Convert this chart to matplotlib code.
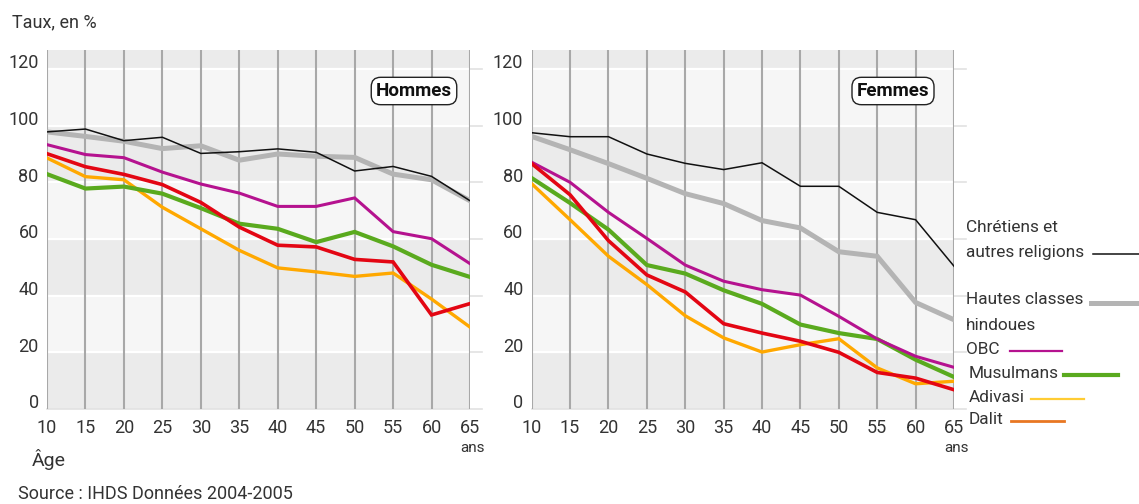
import matplotlib
matplotlib.use("Agg")
import matplotlib.pyplot as plt
from matplotlib.lines import Line2D

plt.rcParams['font.family'] = ['Roboto', 'DejaVu Sans']

ages = [10, 15, 20, 25, 30, 35, 40, 45, 50, 55, 60, 65]

# Hommes
h_chretiens = [97.8, 98.8, 94.7, 95.9, 90.2, 90.8, 91.8, 90.6, 84.0, 85.6, 82.1, 73.5]
h_hautes = [97.8, 96.2, 94.5, 91.9, 92.9, 87.8, 90.0, 89.2, 88.8, 82.9, 80.9, 73.5]
h_obc = [93.3, 89.8, 88.7, 83.6, 79.4, 76.2, 71.5, 71.5, 74.5, 62.6, 60.1, 51.3]
h_musulmans = [82.9, 77.8, 78.5, 76.0, 70.9, 65.4, 63.6, 58.9, 62.5, 57.4, 50.9, 46.6]
h_dalit = [90.1, 85.5, 82.8, 79.2, 72.9, 64.2, 57.8, 57.2, 52.8, 51.9, 33.2, 37.2]
h_adivasi = [88.6, 82.0, 80.9, 71.2, 63.6, 56.0, 49.8, 48.4, 46.8, 48.0, 38.8, 28.9]

# Femmes
f_chretiens = [97.5, 96.1, 96.1, 90.0, 86.7, 84.5, 86.9, 78.6, 78.6, 69.4, 66.8, 50.4]
f_hautes = [96.2, 91.5, 86.6, 81.4, 76.0, 72.5, 66.5, 63.9, 55.5, 53.9, 37.6, 31.5]
f_obc = [87.1, 80.0, 69.4, 60.2, 50.8, 45.1, 42.1, 40.2, 32.7, 24.7, 18.6, 14.7]
f_musulmans = [81.5, 72.7, 63.3, 50.8, 47.8, 41.9, 37.1, 29.8, 26.8, 24.7, 17.4, 11.3]
f_dalit = [86.6, 75.6, 59.4, 47.3, 41.3, 30.1, 26.8, 23.9, 20.0, 12.9, 10.9, 6.8]
f_adivasi = [79.5, 66.8, 53.9, 43.9, 32.9, 25.1, 20.1, 22.7, 24.8, 14.5, 8.9, 9.8]

yticks = [0, 20, 40, 60, 80, 100, 120]

W, H = 1139, 504
fig = plt.figure(figsize=(W / 100, H / 100), dpi=100)

styles = {
    'hautes': dict(color='#b4b4b4', lw=3.6),
    'chretiens': dict(color='#111111', lw=1.1),
    'adivasi': dict(color='#ffa800', lw=2.4),
    'musulmans': dict(color='#5aaa1e', lw=3.0),
    'obc': dict(color='#b5128f', lw=2.2),
    'dalit': dict(color='#e30613', lw=2.6),
}


def panel(rect, series, title, title_x):
    ax = fig.add_axes(rect)
    ax.set_xlim(10, 65)
    ax.set_ylim(0, 126.7)
    bands = [0, 20, 40, 60, 80, 100, 120, 126.7]
    for i in range(len(bands) - 1):
        ax.axhspan(bands[i], bands[i + 1], color='#ebebeb' if i % 2 == 0 else '#f6f6f6',
                   lw=0, zorder=0)
    for y in yticks[1:]:
        ax.axhline(y, color='white', lw=1.6, zorder=1)
        ax.plot([65, 66.5], [y, y], color='#e2e2e2', lw=1.2, clip_on=False, zorder=1)
    ax.plot([10, 66.5], [0, 0], color='#e2e2e2', lw=1.2, clip_on=False, zorder=1)
    for a in ages:
        ax.axvline(a, color='#a8a8a8', lw=1.5, zorder=2)
    for key in ['hautes', 'chretiens', 'adivasi', 'musulmans', 'obc', 'dalit']:
        ax.plot(ages, series[key], zorder=3, solid_joinstyle='miter', **styles[key])
    for s in ax.spines.values():
        s.set_visible(False)
    ax.set_xticks([])
    ax.set_yticks([])
    for y in yticks:
        ax.annotate(str(y), xy=(0, y), xycoords=('axes fraction', 'data'),
                    xytext=(-6, 4), textcoords='offset points',
                    ha='right', va='center', fontsize=13, color='#333333')
    for a in ages:
        ax.annotate(str(a), xy=(a, 0), xycoords=('data', 'axes fraction'),
                    xytext=(0, -14), textcoords='offset points',
                    ha='center', va='center', fontsize=13, color='#333333')
    ax.annotate('ans', xy=(65, 0), xycoords=('data', 'axes fraction'),
                xytext=(2, -28), textcoords='offset points',
                ha='center', va='center', fontsize=11, color='#333333')
    fig.text(title_x / W, 1 - 91 / H, title, ha='center', va='center',
             fontsize=13.5, fontweight='bold', color='#111111',
             bbox=dict(boxstyle='round,pad=0.25,rounding_size=0.5', fc='white',
                       ec='#222222', lw=1.0))
    return ax


panel([47 / W, 95 / H, 423 / W, 359 / H],
      dict(chretiens=h_chretiens, hautes=h_hautes, obc=h_obc,
           musulmans=h_musulmans, dalit=h_dalit, adivasi=h_adivasi),
      'Hommes', 414)
panel([531.7 / W, 95 / H, 422.3 / W, 359 / H],
      dict(chretiens=f_chretiens, hautes=f_hautes, obc=f_obc,
           musulmans=f_musulmans, dalit=f_dalit, adivasi=f_adivasi),
      'Femmes', 893)


def ftext(x, y, s, **kw):
    fig.text(x / W, 1 - y / H, s, va='center', color='#333333', **kw)


def fline(x0, x1, y, color, lw):
    fig.add_artist(Line2D([x0 / W, x1 / W], [1 - y / H, 1 - y / H],
                          color=color, lw=lw, transform=fig.transFigure))


ftext(12, 22, 'Taux, en %', fontsize=13)
ftext(32, 459, 'Âge', fontsize=14)
ftext(18, 494, 'Source : IHDS Données 2004-2005', fontsize=13)

lg = 12.4
ftext(966, 228, 'Chrétiens et', fontsize=lg)
ftext(966, 252, 'autres religions', fontsize=lg)
fline(1093, 1139, 254, '#111111', 1.1)
ftext(966, 300, 'Hautes classes', fontsize=lg)
fline(1091, 1139, 303, '#b4b4b4', 3.6)
ftext(966, 325, 'hindoues', fontsize=lg)
ftext(966, 350, 'OBC', fontsize=lg)
fline(1010, 1062, 351, '#b5128f', 1.6)
ftext(969, 374, 'Musulmans', fontsize=lg)
fline(1064, 1118, 375, '#5aaa1e', 3.0)
ftext(969, 397, 'Adivasi', fontsize=lg)
fline(1031, 1084, 399, '#ffcc33', 1.6)
ftext(969, 420, 'Dalit', fontsize=lg)
fline(1011, 1064, 421, '#e87722', 2.0)

fig.savefig('out.png', dpi=100)
